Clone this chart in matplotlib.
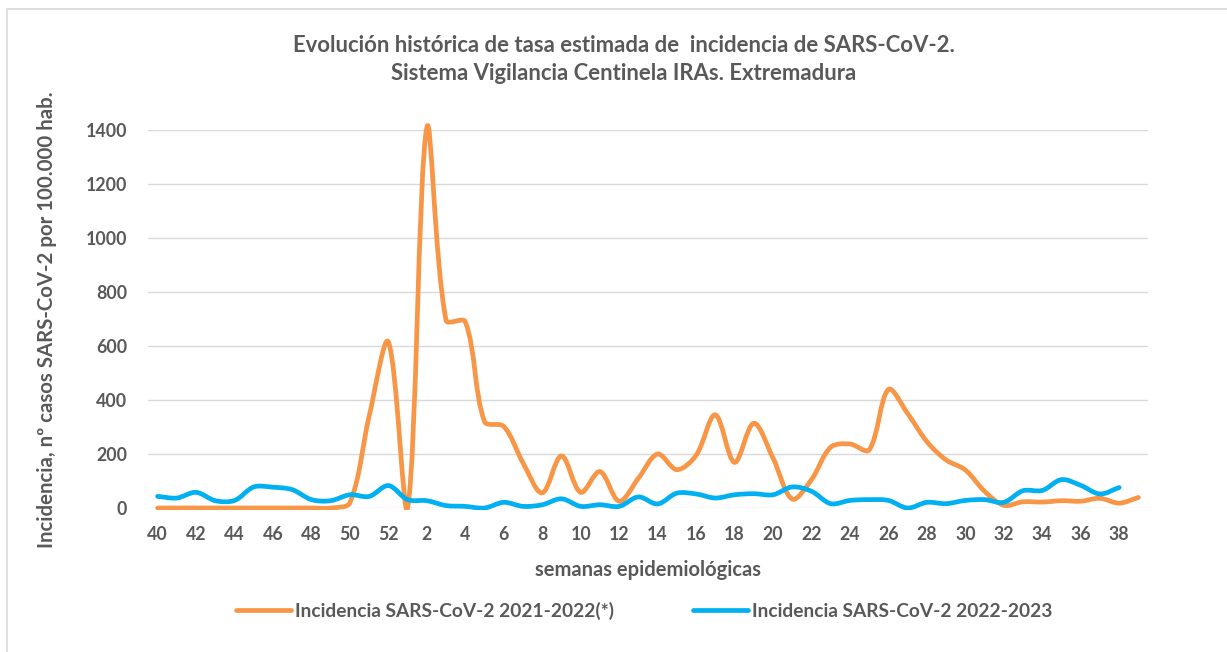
import matplotlib
matplotlib.use("Agg")
import math
import matplotlib.pyplot as plt
from matplotlib.path import Path
from matplotlib.patches import PathPatch, Rectangle
from matplotlib.lines import Line2D

# ---------------- data ----------------
weeks = list(range(40, 53)) + list(range(1, 40))
tick_every = 2

inc_2021_2022 = [0, 0, 0, 0, 0, 0, 0, 0, 0, 0,      # 40-49
                 20, 340, 615,                       # 50-52
                 0, 1410, 695, 690, 320, 302, 167, 56, 193, 58,   # 1-10
                 135, 25, 110, 200, 142, 195, 345, 169, 314, 185,  # 11-20
                 33, 105, 225, 237, 215, 439, 350, 246, 178, 141,  # 21-30
                 62, 10, 23, 22, 27, 25, 36, 18, 39]               # 31-39

inc_2022_2023 = [43, 37, 58, 27, 28, 78, 77, 68, 31, 27,   # 40-49
                 49, 43, 83,                               # 50-52
                 31, 27, 9, 6, 0, 21, 6, 12, 34, 6,        # 1-10
                 12, 6, 41, 15, 55, 52, 37, 49, 53, 49,    # 11-20
                 78, 62, 16, 28, 31, 28, 0, 21, 16, 28,    # 21-30
                 31, 21, 64, 65, 105, 84, 52, 76]          # 31-38

series_labels = ["Incidencia SARS-CoV-2 2021-2022(*)", "Incidencia SARS-CoV-2 2022-2023"]
series_colors = ["#F79646", "#00B0F0"]

title_lines = ["Evolución histórica de tasa estimada de  incidencia de SARS-CoV-2.",
               "Sistema Vigilancia Centinela IRAs. Extremadura"]
x_title = "semanas epidemiológicas"
y_title = "Incidencia, nº casos SARS-CoV-2 por 100.000 hab."
y_ticks = [0, 200, 400, 600, 800, 1000, 1200, 1400]

# ---------------- style ----------------
W, H = 1227, 652
TXT = "#595959"
GRID = "#D9D9D9"
plt.rcParams["font.family"] = ["Lato", "DejaVu Sans"]

fig = plt.figure(figsize=(W / 100, H / 100), dpi=100)
fig.patch.set_facecolor("white")

def fx(px):
    return px / W

def fy(py):
    return 1 - py / H

# chart-area border (light gray, only top & left visible)
fig.patches.append(Rectangle((fx(7), -0.05), 2.0, fy(9) + 0.05, transform=fig.transFigure,
                             fill=False, edgecolor=GRID, lw=1.2))

AX_W, AX_H = 1000, 378
ax = fig.add_axes([fx(148), fy(508), AX_W / W, AX_H / H])
ax.set_xlim(-0.5, len(weeks) - 0.5)
ax.set_ylim(0, 1400)
for s in ax.spines.values():
    s.set_visible(False)
ax.set_yticks(y_ticks)
ax.yaxis.grid(True, color=GRID, lw=1.0)
ax.set_axisbelow(True)
ax.tick_params(length=0)

xpos = list(range(len(weeks)))
ax.set_xticks(xpos[::tick_every])
ax.set_xticklabels([str(w) for w in weeks[::tick_every]])

fig.canvas.draw()
R = fig.canvas.get_renderer()

def width_of(txt, size):
    t = fig.text(0, 0, txt, fontsize=size, weight="bold")
    w = t.get_window_extent(R).width
    t.remove()
    return w

def fit_size(txt, target):
    return 12 * target / width_of(txt, 12)

tick_fs = fit_size("1400", 41)
for lab in ax.get_xticklabels() + ax.get_yticklabels():
    lab.set_fontsize(tick_fs)
    lab.set_fontweight("bold")
    lab.set_color(TXT)
ax.tick_params(axis="y", pad=21 * 72 / 100)
ax.tick_params(axis="x", pad=(535 - 508 - 9) * 72 / 100)

# ---------------- smoothed lines (Excel-style smoothing) ----------------
sx = AX_W / len(weeks)      # px per category
sy = AX_H / 1400.0          # px per unit

def dist(xs, ys, i, j):
    return math.hypot((xs[j] - xs[i]) * sx, (ys[j] - ys[i]) * sy)

def smooth_path(xs, ys):
    n = len(xs)
    verts = [(xs[0], ys[0])]
    codes = [Path.MOVETO]
    for i in range(n - 1):
        a = i - 1 if i > 0 else i
        d = i + 2 if i + 2 < n else i + 1
        dm = dist(xs, ys, i, i + 1)
        da = dist(xs, ys, a, i)
        dd = dist(xs, ys, i + 1, d)
        f1 = dm / (da + dm) / 3 if da + dm > 0 else 0
        f2 = dm / (dm + dd) / 3 if dm + dd > 0 else 0
        c1 = (xs[i] + (xs[i + 1] - xs[a]) * f1, ys[i] + (ys[i + 1] - ys[a]) * f1)
        c2 = (xs[i + 1] - (xs[d] - xs[i]) * f2, ys[i + 1] - (ys[d] - ys[i]) * f2)
        verts += [c1, c2, (xs[i + 1], ys[i + 1])]
        codes += [Path.CURVE4] * 3
    return Path(verts, codes)

clip = Rectangle((-0.5, -9), len(weeks), 1600, transform=ax.transData)
for vals, col, z in [(inc_2021_2022, series_colors[0], 3), (inc_2022_2023, series_colors[1], 4)]:
    p = PathPatch(smooth_path(xpos[:len(vals)], vals), fill=False, edgecolor=col,
                  lw=3.4, capstyle="round", joinstyle="round", zorder=z)
    ax.add_patch(p)
    p.set_clip_path(clip)

# ---------------- titles ----------------
fs1 = fit_size(title_lines[0], 660)
fig.text(fx(624), fy(45), title_lines[0], ha="center", va="center", fontsize=fs1,
         weight="bold", color=TXT)
fig.text(fx(624), fy(73), title_lines[1], ha="center", va="center", fontsize=fs1,
         weight="bold", color=TXT)

fsx = fit_size(x_title, 224)
fig.text(fx(648), fy(570), x_title, ha="center", va="center", fontsize=fsx,
         weight="bold", color=TXT)

fsy = fit_size(y_title, 455)
fig.text(fx(47), fy(320), y_title, ha="center", va="center", rotation=90,
         fontsize=fsy, weight="bold", color=TXT)

# ---------------- legend ----------------
leg_fs = (fit_size(series_labels[0], 318) + fit_size(series_labels[1], 298)) / 2
em = leg_fs * 100 / 72
handles = [Line2D([], [], color=c, lw=3.4, solid_capstyle="round") for c in series_colors]
fig.legend(handles, series_labels, loc="center", bbox_to_anchor=(fx(644.5), fy(611)),
           ncol=2, frameon=False, prop={"weight": "bold", "size": leg_fs},
           labelcolor=TXT, handlelength=55 / em, handletextpad=4 / em,
           columnspacing=79 / em, borderpad=0, borderaxespad=0)

fig.savefig("out.png", dpi=100, facecolor="white")
